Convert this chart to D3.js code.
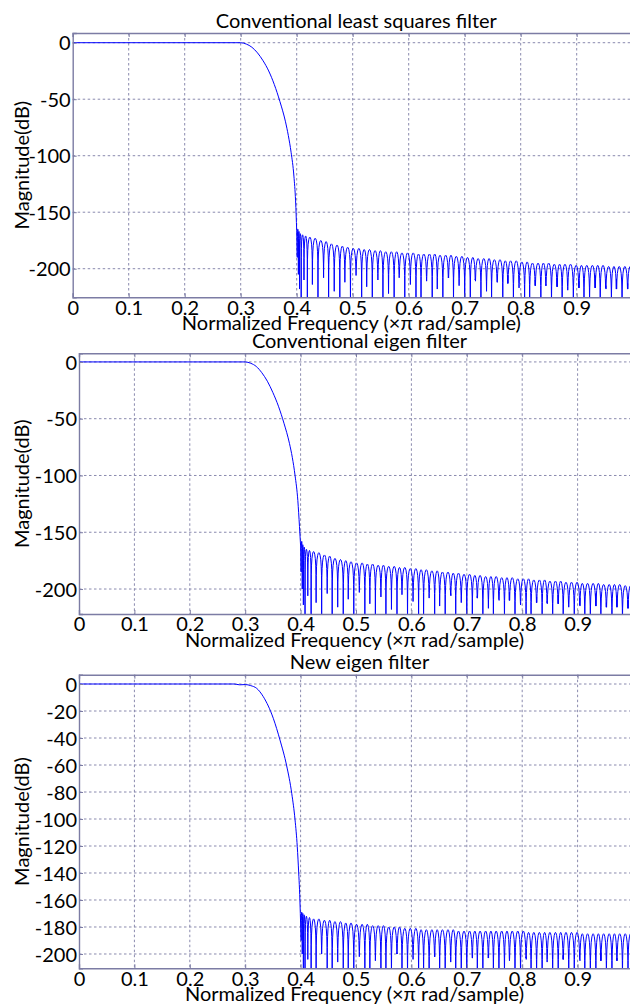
<!DOCTYPE html>
<html>
<head>
<meta charset="utf-8">
<script src="https://cdn.jsdelivr.net/npm/d3@7"></script>
<style>
  body { margin: 0; background: #fff; }
  svg { display: block; font-family: Lato, "Open Sans", sans-serif; }
  .tick text { font-size: 20px; fill: #000; }
  .title, .xlabel, .ylabel { font-size: 20px; fill: #000; }
</style>
</head>
<body>
<div id="chart"></div>
<script>
// Frequency ticks shared by all three panels
const xTicks = [0, 0.1, 0.2, 0.3, 0.4, 0.5, 0.6, 0.7, 0.8, 0.9];
const yTicksA = [0, -50, -100, -150, -200];
const yTicksB = [0, -20, -40, -60, -80, -100, -120, -140, -160, -180, -200];

const titles = ["Conventional least squares filter", "Conventional eigen filter", "New eigen filter"];

// Passband + transition band (normalized freq, dB)
const transFreq1 = [0, 0.29, 0.30, 0.31, 0.32, 0.33, 0.34, 0.35, 0.36, 0.37, 0.38, 0.385, 0.39, 0.395, 0.398, 0.4];
const transDb1   = [0, 0, 0, -1.2, -4, -9, -16, -25, -37, -52, -70, -82, -97, -118, -140, -166];
const transFreq2 = [0, 0.29, 0.30, 0.31, 0.32, 0.33, 0.34, 0.35, 0.36, 0.37, 0.38, 0.385, 0.39, 0.395, 0.398, 0.4];
const transDb2   = [0, 0, 0, -1.2, -4, -9.5, -17, -27, -39, -54, -72, -84, -100, -122, -145, -162];
const transFreq3 = [0, 0.28, 0.29, 0.30, 0.31, 0.3207, 0.3327, 0.3507, 0.3628, 0.3749, 0.384, 0.390, 0.394, 0.3966, 0.398, 0.3995];
const transDb3   = [0, 0, -0.6, -0.4, -1.2, -3.2, -9.4, -25.4, -41.5, -60.7, -81, -100.7, -120.5, -140, -152, -170];

// Stopband nulls (normalized freq), shared
const stopNulls = [0.401, 0.403, 0.405, 0.408, 0.413, 0.419, 0.428, 0.438, 0.448, 0.457,
  0.467, 0.477, 0.486, 0.496, 0.506, 0.516, 0.525, 0.535, 0.545, 0.554,
  0.564, 0.574, 0.583, 0.593, 0.603, 0.613, 0.622, 0.632, 0.642, 0.651,
  0.661, 0.671, 0.680, 0.690, 0.700, 0.710, 0.719, 0.729, 0.739, 0.748,
  0.758, 0.768, 0.777, 0.787, 0.797, 0.807, 0.816, 0.826, 0.836, 0.845,
  0.855, 0.865, 0.874, 0.884, 0.894, 0.904, 0.913, 0.923, 0.933, 0.942,
  0.952, 0.962, 0.971, 0.981, 0.991, 1.000];

// Stopband lobe peaks (dB), one per lobe
const peaks1 = [-165, -167, -169, -170, -171, -172, -173, -175, -176, -178,
  -179, -180, -181, -182, -182, -183, -183, -184, -184, -185,
  -185, -185, -186, -186, -186, -187, -187, -187, -187, -188,
  -188, -188, -189, -189, -190, -190, -191, -191, -191, -192,
  -192, -193, -193, -193, -194, -194, -195, -195, -195, -195,
  -196, -196, -196, -196, -197, -197, -197, -197, -197, -197,
  -198, -198, -198, -198, -198];
const peaks2 = [-158, -161, -163, -165, -166, -167, -168, -170, -171, -173,
  -174, -175, -176, -177, -177, -178, -178, -179, -179, -180,
  -180, -181, -181, -182, -182, -183, -183, -184, -184, -185,
  -185, -186, -186, -187, -187, -188, -188, -189, -189, -189,
  -190, -190, -190, -191, -191, -191, -192, -192, -192, -193,
  -193, -193, -194, -194, -194, -195, -195, -195, -195, -196,
  -196, -196, -196, -197, -197];
const peaks3 = [-169, -170, -171, -172, -173, -174, -174, -175, -175, -176,
  -176, -177, -177, -178, -178, -178, -179, -179, -179, -180,
  -180, -180, -181, -181, -181, -182, -182, -182, -182, -182,
  -182, -182, -183, -183, -183, -183, -183, -183, -183, -183,
  -183, -183, -183, -183, -183, -184, -184, -184, -184, -184,
  -184, -184, -184, -184, -184, -185, -185, -185, -185, -185,
  -185, -185, -185, -185, -185];

// Depth reached at each null (dB)
const depths1 = [-190, -205, -218, -230, -210, -230, -214, -230, -208, -230,
  -220, -230, -212, -230, -206, -230, -216, -230, -210, -230,
  -222, -230, -208, -230, -214, -230, -230, -211, -230, -218,
  -230, -207, -230, -215, -230, -230, -209, -230, -220, -230,
  -212, -230, -206, -230, -217, -230, -230, -210, -230, -214,
  -230, -208, -230, -219, -230, -211, -230, -230, -206, -230,
  -215, -230, -209, -230, -213, -230];
const depths2 = [-185, -200, -214, -228, -206, -228, -212, -228, -204, -228,
  -216, -228, -209, -228, -203, -228, -213, -228, -207, -228,
  -218, -228, -205, -228, -211, -228, -228, -208, -228, -215,
  -228, -204, -228, -212, -228, -228, -206, -228, -217, -228,
  -209, -228, -203, -228, -214, -228, -228, -207, -228, -211,
  -228, -205, -228, -216, -228, -208, -228, -228, -204, -228,
  -212, -228, -206, -228, -210, -228];
const depths3 = [-190, -200, -215, -215, -204, -215, -215, -200, -215, -215,
  -206, -215, -215, -215, -202, -215, -215, -205, -215, -215,
  -215, -199, -215, -215, -204, -215, -215, -215, -201, -215,
  -215, -206, -215, -215, -215, -203, -215, -215, -200, -215,
  -215, -215, -205, -215, -215, -202, -215, -215, -215, -206,
  -215, -215, -201, -215, -215, -204, -215, -215, -215, -199,
  -215, -215, -203, -215, -215, -215];

// Panel layout (pixels) and y limits
const panels = [
  { left: 72.7, top: 33,    bottom: 297.3, pxPerUnit: 560, yMin: -225.3, yMax: 8.6, yTicks: yTicksA,
    tf: transFreq1, td: transDb1, peaks: peaks1, depths: depths1 },
  { left: 79,   top: 353.3, bottom: 614,   pxPerUnit: 554, yMin: -222,   yMax: 7.6, yTicks: yTicksA,
    tf: transFreq2, td: transDb2, peaks: peaks2, depths: depths2 },
  { left: 79,   top: 674.7, bottom: 968.3, pxPerUnit: 554, yMin: -210.6, yMax: 6.9, yTicks: yTicksB,
    tf: transFreq3, td: transDb3, peaks: peaks3, depths: depths3 }
];

// shape of one sidelobe between two nulls: [fraction of lobe, dB below peak]
const lobeShape = [[0.03, -20], [0.08, -12], [0.16, -6.3], [0.28, -2.3], [0.4, -0.5], [0.5, 0],
                   [0.6, -0.5], [0.72, -2.3], [0.84, -6.3], [0.92, -12], [0.97, -20]];

const W = 630, H = 1006;
const axisColor = "#7c7ca4";
const gridColor = "#8a8aae";

const svg = d3.select("#chart").append("svg")
  .attr("width", W).attr("height", H);

panels.forEach((p, i) => {
  const x = d3.scaleLinear().domain([0, 1]).range([p.left, p.left + p.pxPerUnit]);
  const y = d3.scaleLinear().domain([p.yMin, p.yMax]).range([p.bottom, p.top]);
  const g = svg.append("g");

  // clip
  svg.append("clipPath").attr("id", "clip" + i)
    .append("rect")
    .attr("x", p.left).attr("y", p.top)
    .attr("width", p.pxPerUnit).attr("height", p.bottom - p.top);

  // grid
  g.append("g")
    .selectAll("line")
    .data(xTicks.filter(d => d > 0))
    .enter().append("line")
    .attr("x1", d => x(d)).attr("x2", d => x(d))
    .attr("y1", p.top).attr("y2", p.bottom)
    .attr("stroke", gridColor).attr("stroke-width", 1)
    .attr("stroke-dasharray", "2.5,2.5");
  g.append("g")
    .selectAll("line")
    .data(p.yTicks)
    .enter().append("line")
    .attr("x1", p.left).attr("x2", p.left + p.pxPerUnit)
    .attr("y1", d => y(d)).attr("y2", d => y(d))
    .attr("stroke", gridColor).attr("stroke-width", 1)
    .attr("stroke-dasharray", "2.5,2.5");

  // curve
  const line = d3.line().x(d => x(d[0])).y(d => y(d[1]));
  const trans = p.tf.map((f, k) => [f, p.td[k]]);
  const stop = [[p.tf[p.tf.length - 1], p.td[p.td.length - 1]]];
  stopNulls.forEach((n, k) => {
    stop.push([n, p.depths[k]]);
    if (k < stopNulls.length - 1 && p.peaks[k] !== undefined) {
      const n2 = stopNulls[k + 1];
      lobeShape.forEach(s => stop.push([n + s[0] * (n2 - n), p.peaks[k] + s[1]]));
    }
  });
  const plot = g.append("g").attr("clip-path", `url(#clip${i})`);
  plot.append("path")
    .attr("d", d3.line().x(d => x(d[0])).y(d => y(d[1])).curve(d3.curveMonotoneX)(trans))
    .attr("fill", "none").attr("stroke", "#0000ff").attr("stroke-width", 1);
  plot.append("path")
    .attr("d", line(stop))
    .attr("fill", "none").attr("stroke", "#0000ff").attr("stroke-width", 1);

  // axes
  const xAxis = g.append("g")
    .attr("transform", `translate(0,${p.bottom})`)
    .call(d3.axisBottom(x).tickValues(xTicks)
      .tickFormat(d => d === 0 ? "0" : d3.format(".1f")(d))
      .tickSize(-4).tickPadding(3));
  const xAxisTop = g.append("g")
    .attr("transform", `translate(0,${p.top})`)
    .call(d3.axisTop(x).tickValues(xTicks).tickFormat("").tickSize(-4));
  const yAxis = g.append("g")
    .attr("transform", `translate(${p.left},0)`)
    .call(d3.axisLeft(y).tickValues(p.yTicks).tickFormat(d => String(d))
      .tickSize(-4).tickPadding(2));
  [xAxis, xAxisTop, yAxis].forEach(a => {
    a.select(".domain").attr("stroke", axisColor).attr("stroke-width", 1.4);
    a.selectAll(".tick line").attr("stroke", axisColor);
    a.attr("font-family", null).attr("font-size", null);
  });
  yAxis.selectAll(".tick text").attr("dy", "0.36em");

  // labels
  const cx = (p.left + W) / 2 + 2;
  g.append("text").attr("class", "title")
    .attr("x", cx + 3).attr("y", p.top - 5.5)
    .attr("text-anchor", "middle").text(titles[i]);
  g.append("text").attr("class", "xlabel")
    .attr("x", cx - 2).attr("y", p.bottom + 33)
    .attr("text-anchor", "middle").text("Normalized Frequency (×π rad/sample)");
  g.append("text").attr("class", "ylabel")
    .attr("transform", `translate(29,${(p.top + p.bottom) / 2}) rotate(-90)`)
    .attr("text-anchor", "middle").text("Magnitude(dB)");
});
</script>
</body>
</html>
